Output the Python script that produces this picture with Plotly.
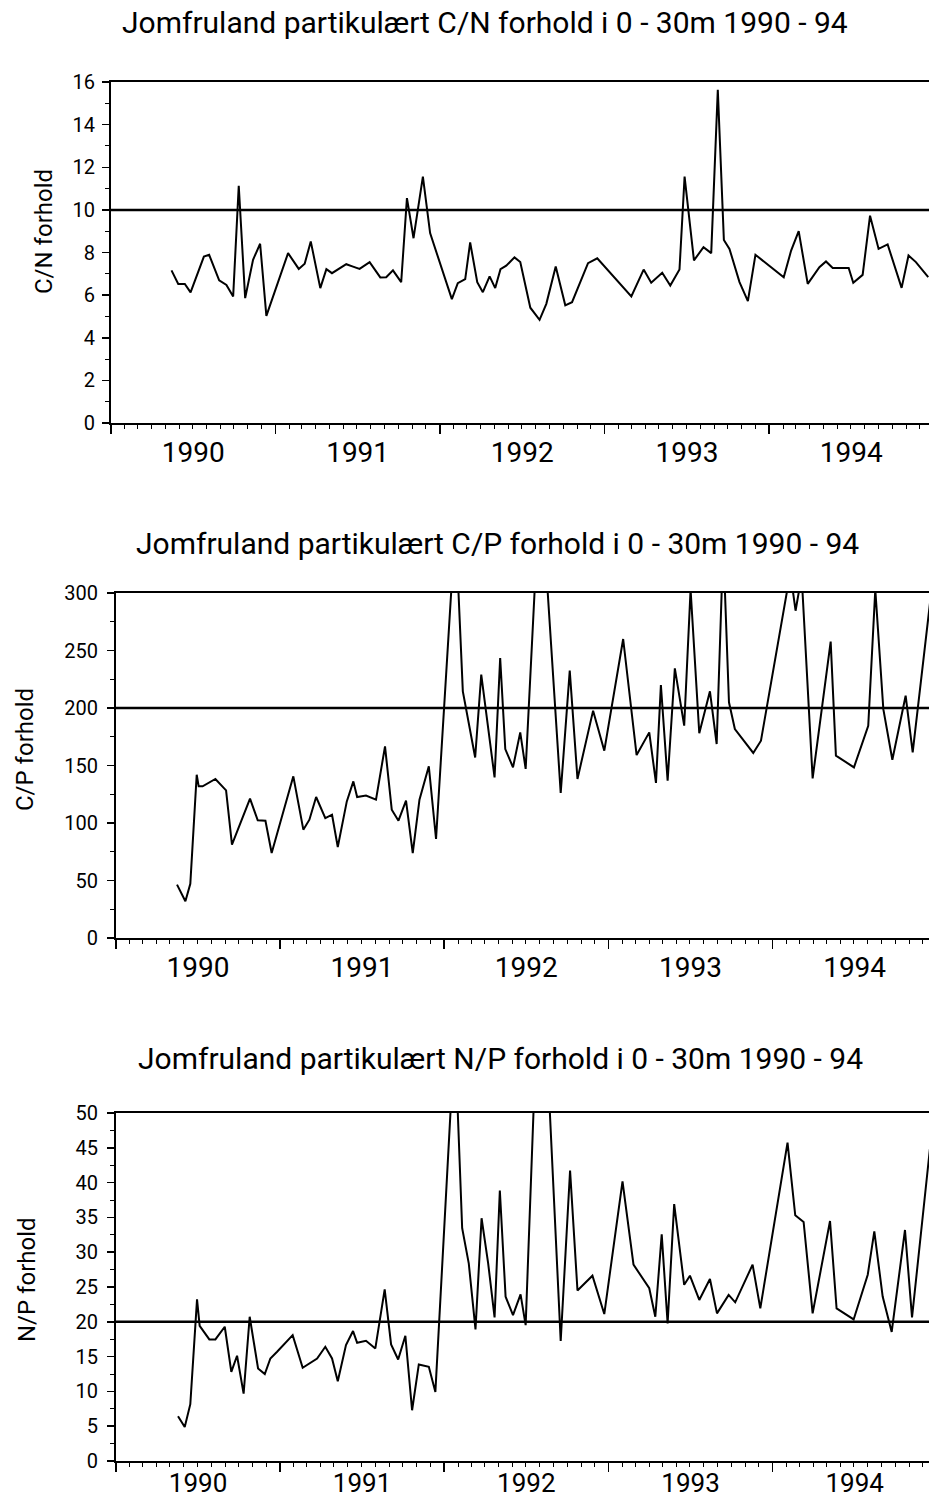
import pandas as pd
import plotly.graph_objects as go

# ---------------- data (decimal year of sample, ratio) ----------------
cn_years = [1990.368, 1990.409, 1990.449, 1990.484, 1990.565, 1990.597, 1990.658, 1990.702,
            1990.743, 1990.777, 1990.816, 1990.864, 1990.907, 1990.945, 1991.077, 1991.142,
            1991.178, 1991.215, 1991.273, 1991.310, 1991.344, 1991.431, 1991.472, 1991.512,
            1991.573, 1991.638, 1991.674, 1991.715, 1991.765, 1991.800, 1991.840, 1991.897,
            1991.941, 1992.073, 1992.109, 1992.154, 1992.184, 1992.227, 1992.261, 1992.302,
            1992.336, 1992.368, 1992.403, 1992.453, 1992.488, 1992.549, 1992.605, 1992.646,
            1992.703, 1992.761, 1992.802, 1992.899, 1992.955, 1993.162, 1993.237, 1993.283,
            1993.350, 1993.399, 1993.455, 1993.486, 1993.543, 1993.601, 1993.648, 1993.688,
            1993.725, 1993.759, 1993.820, 1993.871, 1993.917, 1994.089, 1994.134, 1994.180,
            1994.235, 1994.306, 1994.346, 1994.387, 1994.484, 1994.512, 1994.569, 1994.614,
            1994.666, 1994.721, 1994.806, 1994.848, 1994.893, 1994.968]
cn_values = [7.16, 6.52, 6.52, 6.13, 7.81, 7.89, 6.69, 6.48,
             5.94, 11.13, 5.86, 7.66, 8.41, 5.03, 7.97, 7.23,
             7.47, 8.52, 6.33, 7.22, 7.03, 7.45, 7.34, 7.23,
             7.55, 6.83, 6.84, 7.16, 6.61, 10.55, 8.67, 11.56,
             8.91, 5.81, 6.56, 6.75, 8.47, 6.61, 6.14, 6.88,
             6.33, 7.22, 7.38, 7.77, 7.55, 5.41, 4.84, 5.59,
             7.34, 5.52, 5.67, 7.50, 7.73, 5.94, 7.20, 6.58,
             7.05, 6.45, 7.20, 11.56, 7.63, 8.25, 7.97, 15.63,
             8.59, 8.17, 6.61, 5.72, 7.89, 6.84, 8.09, 9.00,
             6.53, 7.31, 7.58, 7.27, 7.27, 6.58, 6.95, 9.73,
             8.17, 8.38, 6.34, 7.86, 7.55, 6.84]

cp_years = [1990.372, 1990.423, 1990.453, 1990.492, 1990.504, 1990.528, 1990.606, 1990.671,
            1990.707, 1990.817, 1990.864, 1990.911, 1990.949, 1991.081, 1991.142, 1991.179,
            1991.220, 1991.276, 1991.317, 1991.352, 1991.407, 1991.447, 1991.470, 1991.524,
            1991.585, 1991.640, 1991.681, 1991.722, 1991.768, 1991.809, 1991.850, 1991.907,
            1991.951, 1992.069, 1992.114, 1992.189, 1992.226, 1992.307, 1992.341, 1992.372,
            1992.419, 1992.463, 1992.496, 1992.585, 1992.709, 1992.764, 1992.811, 1992.906,
            1992.974, 1993.089, 1993.171, 1993.248, 1993.289, 1993.319, 1993.360, 1993.404,
            1993.461, 1993.500, 1993.553, 1993.618, 1993.659, 1993.699, 1993.734, 1993.770,
            1993.882, 1993.929, 1994.108, 1994.140, 1994.177, 1994.244, 1994.354, 1994.386,
            1994.496, 1994.583, 1994.626, 1994.675, 1994.730, 1994.811, 1994.854, 1994.960]
cp_values = [46.4, 31.9, 47.2, 142.0, 131.9, 131.9, 138.3, 128.4,
             81.2, 121.2, 102.3, 102.0, 73.9, 140.6, 94.2, 102.9,
             122.6, 104.3, 107.2, 79.1, 118.8, 136.2, 122.6, 123.8,
             120.3, 166.7, 111.6, 102.0, 119.4, 73.9, 120.3, 149.3,
             86.1, 361.0, 214.5, 157.0, 229.0, 139.7, 243.5, 164.3,
             148.4, 178.8, 147.0, 400.0, 126.1, 232.5, 138.3, 197.7,
             162.9, 260.0, 159.1, 178.8, 134.8, 220.0, 136.8, 234.5,
             184.6, 303.0, 178.0, 214.5, 168.7, 342.0, 205.0, 181.7,
             160.9, 171.6, 318.0, 284.6, 315.0, 138.8, 257.7, 158.6,
             148.4, 184.6, 303.0, 199.0, 155.0, 210.7, 161.4, 292.0]

np_years = [1990.378, 1990.419, 1990.453, 1990.494, 1990.510, 1990.569, 1990.606, 1990.663,
            1990.703, 1990.738, 1990.778, 1990.815, 1990.866, 1990.907, 1990.941, 1990.982,
            1991.077, 1991.138, 1991.226, 1991.276, 1991.317, 1991.352, 1991.402, 1991.445,
            1991.470, 1991.524, 1991.581, 1991.638, 1991.677, 1991.720, 1991.764, 1991.805,
            1991.846, 1991.907, 1991.947, 1992.065, 1992.110, 1992.150, 1992.191, 1992.228,
            1992.268, 1992.307, 1992.339, 1992.374, 1992.419, 1992.465, 1992.496, 1992.587,
            1992.709, 1992.766, 1992.811, 1992.902, 1992.974, 1993.085, 1993.152, 1993.248,
            1993.285, 1993.324, 1993.360, 1993.400, 1993.461, 1993.496, 1993.553, 1993.618,
            1993.661, 1993.732, 1993.772, 1993.878, 1993.925, 1994.091, 1994.138, 1994.189,
            1994.244, 1994.350, 1994.390, 1994.494, 1994.580, 1994.620, 1994.671, 1994.726,
            1994.807, 1994.850, 1994.959]
np_values = [6.43, 4.89, 8.16, 23.22, 19.43, 17.47, 17.47, 19.29,
             12.81, 15.12, 9.69, 20.73, 13.29, 12.48, 14.73, 15.69,
             18.09, 13.39, 14.73, 16.41, 14.73, 11.47, 16.65, 18.67,
             16.99, 17.27, 16.17, 24.66, 16.75, 14.59, 17.99, 7.29,
             13.87, 13.53, 9.93, 61.5, 33.45, 28.41, 18.91, 34.88,
             28.41, 20.63, 38.87, 23.61, 20.97, 23.94, 19.52, 78.0,
             17.25, 41.74, 24.49, 26.62, 21.11, 40.19, 28.21, 24.83,
             20.72, 32.56, 19.76, 36.91, 25.31, 26.62, 23.14, 26.14,
             21.21, 23.86, 22.80, 28.21, 21.93, 45.75, 35.31, 34.35,
             21.21, 34.49, 21.93, 20.34, 26.76, 33.00, 23.62, 18.55,
             33.19, 20.63, 44.86]

titles = ["Jomfruland partikulært C/N forhold i 0 - 30m 1990 - 94",
          "Jomfruland partikulært C/P forhold i 0 - 30m 1990 - 94",
          "Jomfruland partikulært N/P forhold i 0 - 30m 1990 - 94"]
y_titles = ["C/N forhold", "C/P forhold", "N/P forhold"]
ref_levels = [10, 200, 20]
y_max = [16, 300, 50]
y_major = [2, 50, 5]
y_minor = [1, 25, 2.5]
x_ends = ["1994-12-22", "1994-12-15", "1994-12-15"]


def to_date(y):
    yr = int(y)
    start = pd.Timestamp(yr, 1, 1)
    end = pd.Timestamp(yr + 1, 1, 1)
    return start + (end - start) * (y - yr)


W, H = 929, 1505
FONT = "Roboto"
# plot areas in pixels: (left, top, bottom)
areas = [(111, 82, 423), (116, 593, 938), (116, 1113, 1461)]
title_pos = [(485, 22), (497, 543), (500, 1058)]
ytitle_pos = [(44, 232), (25, 750), (27, 1280)]
y_label_standoff = [3, 5, 5]
x_label_standoff = [-6, -6, -11]
x_label_size = [28, 28, 26]

series = [(cn_years, cn_values), (cp_years, cp_values), (np_years, np_values)]

fig = go.Figure()
layout = dict(
    width=W, height=H, autosize=False,
    margin=dict(l=0, r=0, t=0, b=0, pad=0, autoexpand=False),
    paper_bgcolor="white", plot_bgcolor="white",
    showlegend=False,
    font=dict(family=FONT, color="black"),
    annotations=[], shapes=[],
)

for i in range(3):
    n = "" if i == 0 else str(i + 1)
    xs, ys = series[i]
    fig.add_trace(go.Scatter(
        x=[to_date(v) for v in xs], y=ys, mode="lines",
        line=dict(color="black", width=2),
        xaxis="x" + n, yaxis="y" + n, hoverinfo="skip"))
    left, top, bottom = areas[i]
    xdom = [left / W, 1.0]
    ydom = [1 - bottom / H, 1 - top / H]
    layout["xaxis" + n] = dict(
        domain=xdom, anchor="y" + n, type="date", automargin=False,
        range=["1990-01-01", x_ends[i]],
        tick0="1990-01-01", dtick="M12", ticklabelmode="period",
        tickformat="%Y", ticks="outside", ticklen=9, tickwidth=1.5,
        ticklabelstandoff=x_label_standoff[i],
        tickcolor="black", showgrid=False, zeroline=False,
        showline=True, linecolor="black", linewidth=2, mirror=True,
        tickfont=dict(size=x_label_size[i], family=FONT, color="black"),
        minor=dict(dtick="M1", ticks="outside", ticklen=4, tickwidth=1,
                   tickcolor="black", showgrid=False),
    )
    layout["yaxis" + n] = dict(
        domain=ydom, anchor="x" + n, range=[0, y_max[i]], automargin=False,
        tick0=0, dtick=y_major[i], ticks="outside", ticklen=7,
        tickwidth=1.5, tickcolor="black", showgrid=False, zeroline=False,
        ticklabelstandoff=y_label_standoff[i],
        showline=True, linecolor="black", linewidth=2,
        tickfont=dict(size=20, family=FONT, color="black"),
        minor=dict(dtick=y_minor[i], ticks="outside", ticklen=4,
                   tickwidth=1, tickcolor="black", showgrid=False),
    )
    xr = "x" + n
    layout["shapes"].append(dict(
        type="line", xref=xr + " domain", yref="y" + n,
        x0=0, x1=1, y0=ref_levels[i], y1=ref_levels[i],
        line=dict(color="black", width=2.5)))
    tx, ty = title_pos[i]
    layout["annotations"].append(dict(
        text=titles[i], xref="paper", yref="paper",
        x=tx / W, y=1 - ty / H, xanchor="center", yanchor="middle",
        showarrow=False, font=dict(size=30, family=FONT, color="black")))
    ax_, ay_ = ytitle_pos[i]
    layout["annotations"].append(dict(
        text=y_titles[i], xref="paper", yref="paper",
        x=ax_ / W, y=1 - ay_ / H, xanchor="center", yanchor="middle",
        textangle=-90, showarrow=False,
        font=dict(size=24, family=FONT, color="black")))

fig.update_layout(**layout)
fig.write_html(
    "out.html",
    config={"displayModeBar": False, "staticPlot": True},
    post_script=(
        "var d=document.getElementById('{plot_id}');"
        "d.style.position='fixed';d.style.top='0px';d.style.left='0px';"
        "document.body.style.margin='0';document.body.style.padding='0';"
        "document.documentElement.style.overflow='hidden';"
        "document.body.style.overflow='hidden';"
    ),
)
